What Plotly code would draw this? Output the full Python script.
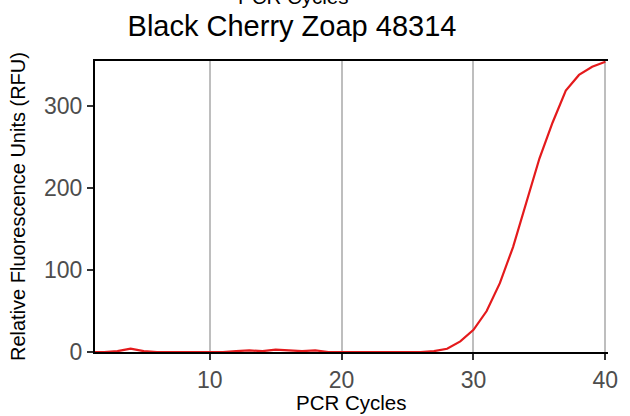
import plotly.graph_objects as go

# amplification curve (cycle -> RFU)
cycles = list(range(1, 41))
rfu = [0, 0, 1, 4, 1, 0, 0, 0, 0, 0,
       0, 1, 2, 1, 3, 2, 1, 2, 0, 0,
       0, 0, 0, 0, 0, 0, 1, 4, 13, 27,
       50, 84, 128, 181, 236, 280, 319, 338, 348, 354]

title_text = "Black Cherry Zoap 48314"
x_title = "PCR Cycles"
y_title = "Relative Fluorescence Units (RFU)"
x_ticks = [10, 20, 30, 40]
y_ticks = [0, 100, 200, 300]

FONT = "Liberation Sans, Arial, sans-serif"

fig = go.Figure(go.Scatter(
    x=cycles, y=rfu, mode="lines",
    line=dict(color="#e41a1c", width=2.2),
    showlegend=False,
))

fig.update_layout(
    width=630, height=416,
    plot_bgcolor="white", paper_bgcolor="white",
    margin=dict(l=95, r=22, t=61, b=64),
    font=dict(family=FONT, color="black"),
    title=dict(text=title_text, x=0.4635, xanchor="center",
               y=0.937, yanchor="middle", font=dict(size=29, color="black")),
)

fig.update_xaxes(
    range=[1.3, 40.2], tickvals=x_ticks, automargin=False,
    showgrid=True, gridcolor="#bebebe", gridwidth=2,
    showline=True, linecolor="black", linewidth=2, mirror=True,
    ticks="outside", ticklen=6, tickcolor="#333333", tickwidth=2,
    tickfont=dict(size=23, color="#4d4d4d"),
    zeroline=False,
)
fig.update_yaxes(
    range=[0, 355], tickvals=y_ticks, automargin=False,
    showgrid=False,
    showline=True, linecolor="black", linewidth=2,
    ticks="outside", ticklen=6, tickcolor="#333333", tickwidth=2,
    tickfont=dict(size=23, color="#4d4d4d"),
    zeroline=False,
)

# axis titles as annotations for exact placement
fig.add_annotation(
    text=x_title, xref="paper", yref="paper",
    x=0.5, y=-0.172, xanchor="center", yanchor="middle",
    showarrow=False, font=dict(size=20.5, color="black"),
)
fig.add_annotation(
    text=y_title, xref="paper", yref="paper", textangle=-90,
    x=-0.151, y=0.5, xanchor="center", yanchor="middle",
    showarrow=False, font=dict(size=20, color="black"),
)
# clipped secondary axis title at the very top
fig.add_annotation(
    text=x_title, xref="paper", yref="paper",
    x=0.386, y=1.175, xanchor="center", yanchor="bottom",
    showarrow=False, font=dict(size=20.5, color="black"),
)

# drop the default 8px body margin so the figure sits at the window corner
fig.write_html("out.html", config={"displayModeBar": False},
               post_script="document.body.style.margin='0';")
